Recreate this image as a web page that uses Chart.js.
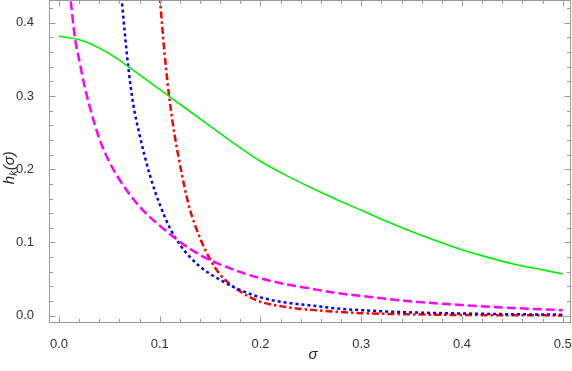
<!DOCTYPE html>
<html>
<head>
<meta charset="utf-8">
<script src="https://cdn.jsdelivr.net/npm/chart.js@4"></script>
<style>
  html, body { margin: 0; padding: 0; background: #fff; }
  #wrap { width: 572px; height: 371px; }
</style>
</head>
<body>
<div id="wrap"><canvas id="c" width="572" height="371"></canvas></div>
<script>
// ---- data ----
const xTickValues = [0, 0.1, 0.2, 0.3, 0.4, 0.5];
const yTickValues = [0, 0.1, 0.2, 0.3, 0.4];

const sigmaGreen = [0, 0.025, 0.05, 0.075, 0.1, 0.125, 0.15, 0.175, 0.2, 0.225, 0.25, 0.275, 0.3, 0.325, 0.35, 0.375, 0.4, 0.425, 0.45, 0.475, 0.5];
const hGreen     = [0.382, 0.375, 0.358, 0.334, 0.309, 0.284, 0.259, 0.234, 0.211, 0.192, 0.175, 0.159, 0.144, 0.129, 0.115, 0.102, 0.090, 0.080, 0.071, 0.064, 0.057];

const sigmaMagenta = [0.006, 0.0116, 0.016, 0.02, 0.025, 0.03, 0.04, 0.05, 0.06, 0.07, 0.08, 0.09, 0.1, 0.115, 0.125, 0.14, 0.15, 0.175, 0.2, 0.225, 0.25, 0.275, 0.3, 0.35, 0.4, 0.45, 0.5];
const hMagenta     = [0.50, 0.431, 0.378, 0.350, 0.316, 0.288, 0.242, 0.210, 0.186, 0.166, 0.149, 0.135, 0.123, 0.106, 0.096, 0.083, 0.076, 0.062, 0.051, 0.043, 0.037, 0.031, 0.027, 0.0195, 0.0145, 0.0105, 0.0075];

const sigmaBlue = [0.058, 0.0623, 0.0689, 0.0738, 0.08, 0.09, 0.1, 0.11, 0.12, 0.13, 0.14, 0.15, 0.16, 0.175, 0.2, 0.225, 0.25, 0.275, 0.3, 0.35, 0.4, 0.45, 0.5];
const hBlue     = [0.50, 0.431, 0.338, 0.288, 0.247, 0.193, 0.152, 0.120, 0.097, 0.080, 0.067, 0.057, 0.049, 0.038, 0.025, 0.018, 0.014, 0.010, 0.0075, 0.0045, 0.003, 0.002, 0.0014];

const sigmaRed = [0.096, 0.1003, 0.105, 0.11, 0.115, 0.12, 0.125, 0.13, 0.14, 0.15, 0.16, 0.17, 0.18, 0.19, 0.2, 0.225, 0.25, 0.275, 0.3, 0.35, 0.4, 0.45, 0.5];
const hRed     = [0.50, 0.431, 0.355, 0.292, 0.245, 0.207, 0.173, 0.145, 0.106, 0.077, 0.056, 0.043, 0.033, 0.025, 0.019, 0.012, 0.008, 0.0055, 0.0035, 0.0018, 0.001, 0.0006, 0.0004];

function pts(xs, ys) { return xs.map((x, i) => ({ x: x, y: ys[i] })); }

const FRAME = '#9a9a9a';
const LABEL_FONT = '"Liberation Sans", Arial, sans-serif';

// frame with inward ticks on all four sides + axis titles
const framePlugin = {
  id: 'frame',
  afterDatasetsDraw(chart) {
    const ctx = chart.ctx;
    const a = chart.chartArea;
    const xs = chart.scales.x, ys = chart.scales.y;
    ctx.save();
    ctx.strokeStyle = FRAME;
    ctx.lineWidth = 1;
    const L = Math.round(a.left) + 0.5, R = Math.round(a.right) - 0.5;
    const T = Math.round(a.top) + 0.5, B = Math.round(a.bottom) - 0.5;
    ctx.strokeRect(L, T, R - L, B - T);
    ctx.beginPath();
    for (let i = 0; i <= 25; i++) {
      const v = i * 0.02;
      const major = (i % 5 === 0);
      const len = major ? 6 : 3.5;
      const px = Math.round(xs.getPixelForValue(v)) + 0.5;
      if (px < L || px > R) continue;
      ctx.moveTo(px, B); ctx.lineTo(px, B - len);
      ctx.moveTo(px, T); ctx.lineTo(px, T + len);
    }
    for (let i = 0; i <= 21; i++) {
      const v = i * 0.02;
      const major = (i % 5 === 0);
      const len = major ? 6 : 3.5;
      const py = Math.round(ys.getPixelForValue(v)) + 0.5;
      if (py < T || py > B) continue;
      ctx.moveTo(L, py); ctx.lineTo(L + len, py);
      ctx.moveTo(R, py); ctx.lineTo(R - len, py);
    }
    ctx.stroke();

    // x title
    ctx.fillStyle = '#222';
    ctx.textAlign = 'center';
    ctx.textBaseline = 'middle';
    ctx.font = 'italic 15px ' + LABEL_FONT;
    ctx.fillText('σ', (a.left + a.right) / 2 + 3, 355);

    // y title h_k(σ), rotated
    ctx.translate(9, 168);
    ctx.rotate(-Math.PI / 2);
    const f1 = 'italic 15px ' + LABEL_FONT;
    const f2 = 'italic 10px ' + LABEL_FONT;
    ctx.font = f1; const wH = ctx.measureText('h').width;
    ctx.font = f2; const wK = ctx.measureText('k').width;
    ctx.font = f1; const wP = ctx.measureText('(σ)').width;
    let x0 = -(wH + wK + wP) / 2;
    ctx.textAlign = 'left';
    ctx.textBaseline = 'alphabetic';
    ctx.font = f1; ctx.fillText('h', x0, 5);
    ctx.font = f2; ctx.fillText('k', x0 + wH, 8);
    ctx.font = f1; ctx.fillText('(σ)', x0 + wH + wK + 0.5, 5);
    ctx.restore();
  }
};

new Chart(document.getElementById('c'), {
  type: 'line',
  data: {
    datasets: [
      { data: pts(sigmaGreen, hGreen), borderColor: '#00f000', borderWidth: 1.6 },
      { data: pts(sigmaMagenta, hMagenta), borderColor: '#ff00ff', borderWidth: 2.5, borderDash: [9, 4] },
      { data: pts(sigmaBlue, hBlue), borderColor: '#0000ff', borderWidth: 2.5, borderDash: [3, 3] },
      { data: pts(sigmaRed, hRed), borderColor: '#ff0000', borderWidth: 2.5, borderDash: [7, 3, 2.5, 3] }
    ]
  },
  options: {
    responsive: false,
    animation: false,
    devicePixelRatio: 1,
    layout: { padding: { top: 0, right: 1, left: 0, bottom: 0 } },
    elements: {
      point: { radius: 0 },
      line: { tension: 0.4, cubicInterpolationMode: 'monotone', fill: false }
    },
    plugins: { legend: { display: false }, tooltip: { enabled: false } },
    scales: {
      x: {
        type: 'linear', min: -0.0099, max: 0.5082,
        grid: { display: false }, border: { display: false },
        afterBuildTicks(s) { s.ticks = xTickValues.map(v => ({ value: v })); },
        afterFit(s) { s.height = 48; s.paddingLeft = 0; s.paddingRight = 0; },
        ticks: {
          autoSkip: false, maxRotation: 0, padding: 6, color: '#333',
          font: { family: LABEL_FONT, size: 13 },
          callback: v => Number(v).toFixed(1)
        }
      },
      y: {
        type: 'linear', min: -0.00998, max: 0.4312,
        grid: { display: false }, border: { display: false },
        afterBuildTicks(s) { s.ticks = yTickValues.map(v => ({ value: v })); },
        afterFit(s) { s.width = 49; s.paddingTop = 0; s.paddingBottom = 0; },
        ticks: {
          autoSkip: false, padding: 7, color: '#333',
          font: { family: LABEL_FONT, size: 13 },
          callback: v => Number(v).toFixed(1)
        }
      }
    }
  },
  plugins: [framePlugin]
});
</script>
</body>
</html>
